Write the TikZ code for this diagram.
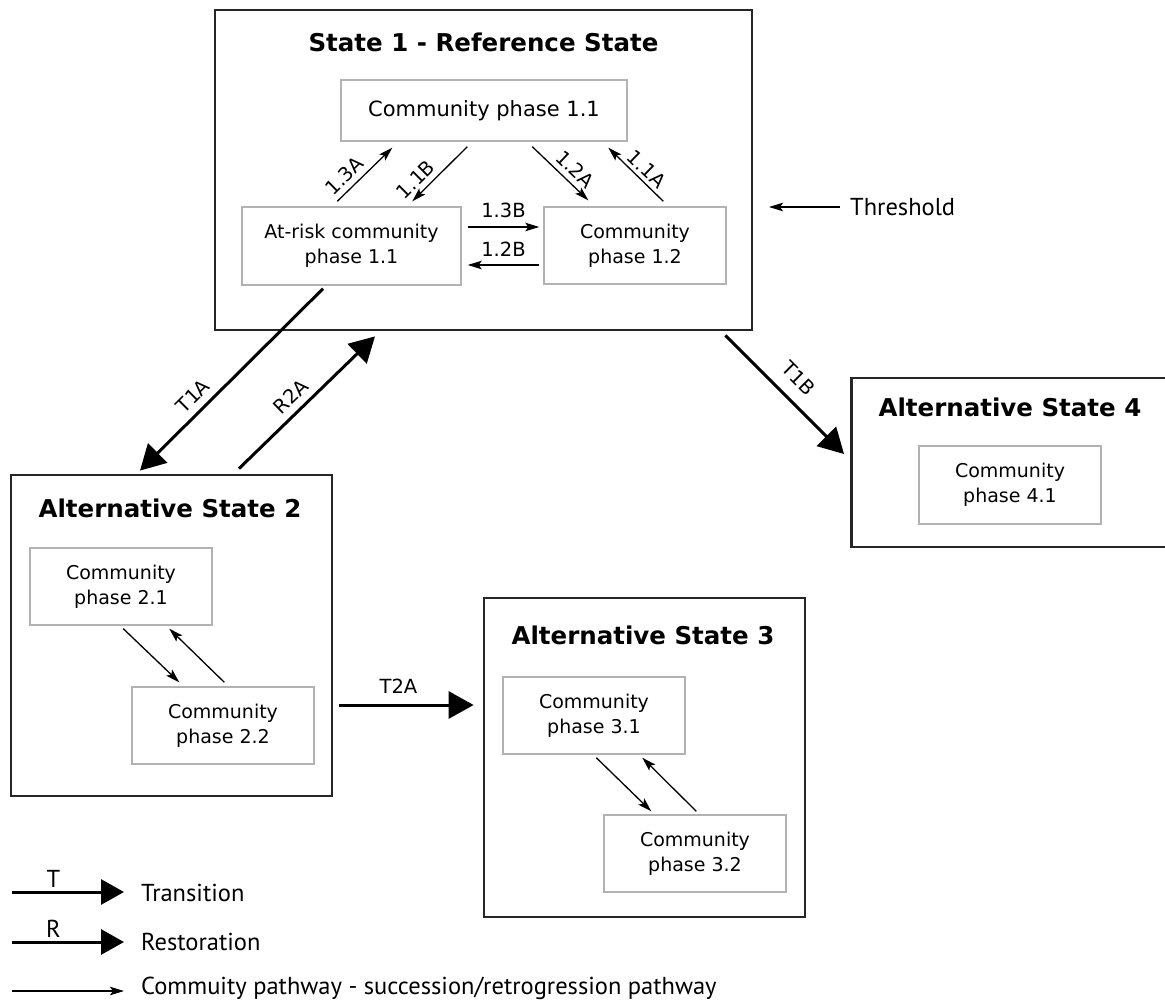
\documentclass[tikz,border=0pt]{standalone}
\usepackage{fontspec}
\setmainfont{DejaVu Sans}
\newfontfamily\lgfont{PT Sans}
\usetikzlibrary{arrows.meta,calc}
\begin{document}
\begin{tikzpicture}[x=1pt,y=-1pt,
  statebox/.style={draw=black!85, line width=2.8pt, inner sep=0pt},
  cpbox/.style={draw=black!30, line width=1.4pt, fill=white, inner sep=0pt, align=center, font=\fontsize{19}{25}\selectfont, minimum width=182pt, minimum height=77pt},
  ttl/.style={font=\bfseries\fontsize{24.5}{28}\selectfont, inner sep=0pt},
  lbl/.style={font=\fontsize{19.5}{22}\selectfont, inner sep=2pt},
  pw/.style={line width=1.3pt, -{Stealth[length=14pt,width=8.5pt,inset=3pt]}},
  tr/.style={line width=3pt, -{Triangle[length=25pt,width=27pt]}},
  lg/.style={font=\lgfont\fontsize{24.5}{28}\selectfont, inner sep=0pt, anchor=west},
  lgl/.style={font=\lgfont\fontsize{24.5}{28}\selectfont, inner sep=0pt},
]
\useasboundingbox (0,0) rectangle (1165,1000);
\clip (0,0) rectangle (1165,1000);
\fill[white] (0,0) rectangle (1165,1000);

% State 1
\node[statebox, minimum width=537pt, minimum height=320pt] (s1) at (483.5,170) {};
\node[ttl] (t1) at (483.5,42) {State 1 - Reference State};
\node[cpbox, minimum width=286pt, minimum height=61pt, font=\fontsize{21}{25}\selectfont] (c11) at (484,110.5) {Community phase 1.1};
\node[cpbox, minimum width=219pt, minimum height=78pt] (ar) at (351.5,246) {At-risk community\\phase 1.1};
\node[cpbox] (c12) at (635,245.5) {Community\\phase 1.2};

% State 2
\node[statebox, minimum width=321pt, minimum height=321pt] (s2) at (171.5,635.5) {};
\node[ttl] (t2) at (170,508) {Alternative State 2};
\node[cpbox] (c21) at (121,586.5) {Community\\phase 2.1};
\node[cpbox] (c22) at (223,725.5) {Community\\phase 2.2};

% State 3
\node[statebox, minimum width=321pt, minimum height=319pt] (s3) at (644.5,757.5) {};
\node[ttl] (t3) at (643,635) {Alternative State 3};
\node[cpbox] (c31) at (594,715.5) {Community\\phase 3.1};
\node[cpbox] (c32) at (695,853.5) {Community\\phase 3.2};

% State 4
\node[statebox, minimum width=330pt, minimum height=169pt, anchor=west] (s4) at (850,462.5) {};
\node[ttl] (t4) at (1010,407) {Alternative State 4};
\node[cpbox, minimum height=78pt] (c41) at (1010,485) {Community\\phase 4.1};

% community pathways in State 1
\draw[pw] ($(ar.north west)+(96,-5)$) -- ($(c11.south west)+(52,6)$)
  node[lbl, pos=0.3, sloped, above=3.5pt] {1.3A};
\draw[pw] ($(c11.south west)+(127,5)$) -- ($(ar.north west)+(171,-5)$)
  node[lbl, pos=0.77, sloped, above=3.5pt] {1.1B};
\draw[pw] ($(c11.south west)+(192,5)$) -- ($(c12.north west)+(45,-6)$)
  node[lbl, pos=0.6, sloped, above=3.5pt] {1.2A};
\draw[pw] ($(c12.north west)+(120,-5)$) -- ($(c11.south west)+(268,6)$)
  node[lbl, pos=0.45, sloped, above=2pt] {1.1A};
\draw[pw] ($(ar.east)+(6,-19)$) -- ($(c12.west)+(-4,-18.5)$)
  node[lbl, midway, above=6.5pt] {1.3B};
\draw[pw] ($(c12.west)+(-4,19.5)$) -- ($(ar.east)+(6,19)$)
  node[lbl, midway, above=6pt] {1.2B};

% community pathways in States 2 and 3
\draw[pw] ($(c21.south west)+(94,3)$) -- ($(c22.north west)+(48,-4)$);
\draw[pw] ($(c22.north west)+(93,-4)$) -- ($(c21.south west)+(140,3)$);
\draw[pw] ($(c31.south west)+(94,3)$) -- ($(c32.north west)+(48,-3)$);
\draw[pw] ($(c32.north west)+(93,-3)$) -- ($(c31.south west)+(140,3)$);

% transitions and restoration
\draw[tr] ($(ar.south)+(-28.5,3)$) -- ($(s2.north)+(-31.5,-3)$)
  node[lbl, pos=0.65, sloped, above=5pt] {T1A};
\draw[tr] ($(s2.north)+(67.5,-5)$) -- ($(s1.south)+(-108.5,5)$)
  node[lbl, pos=0.46, sloped, above=5pt] {R2A};
\draw[tr] ($(s1.south east)+(-28,4)$) -- ($(s4.west)+(-6,-8.5)$)
  node[lbl, pos=0.49, sloped, above=11pt] {T1B};
\draw[tr] ($(s2.east)+(6,69.5)$) -- ($(s3.west)+(-9,-52.5)$)
  node[lbl, pos=0.44, above=8.5pt] {T2A};

% threshold
\node[lg] (thr) at (850,207) {Threshold};
\coordinate (thrtip) at (769,207);
\draw[pw] ($(thr.west)+(-10,0)$) -- (thrtip);

% legend
\node[lg] (ltr) at (141,893) {Transition};
\coordinate (lt0) at (12,892);
\draw[line width=3pt, -{Triangle[length=23pt,width=25pt]}] (lt0) -- ($(ltr.west)+(-17,-1)$)
  node[lgl, pos=0.37, above=3pt] {T};
\node[lg] (lrs) at (141,942) {Restoration};
\coordinate (lr0) at (12,942);
\draw[line width=3pt, -{Triangle[length=23pt,width=25pt]}] (lr0) -- ($(lrs.west)+(-17,0)$)
  node[lgl, pos=0.37, above=3pt] {R};
\node[lg, anchor=base west] (lcp) at (141,994) {Commuity pathway - succession/retrogression pathway};
\coordinate (lc0) at (12,991);
\draw[pw] (lc0) -- ($(lcp.base west)+(-17,-3)$);
\end{tikzpicture}
\end{document}
